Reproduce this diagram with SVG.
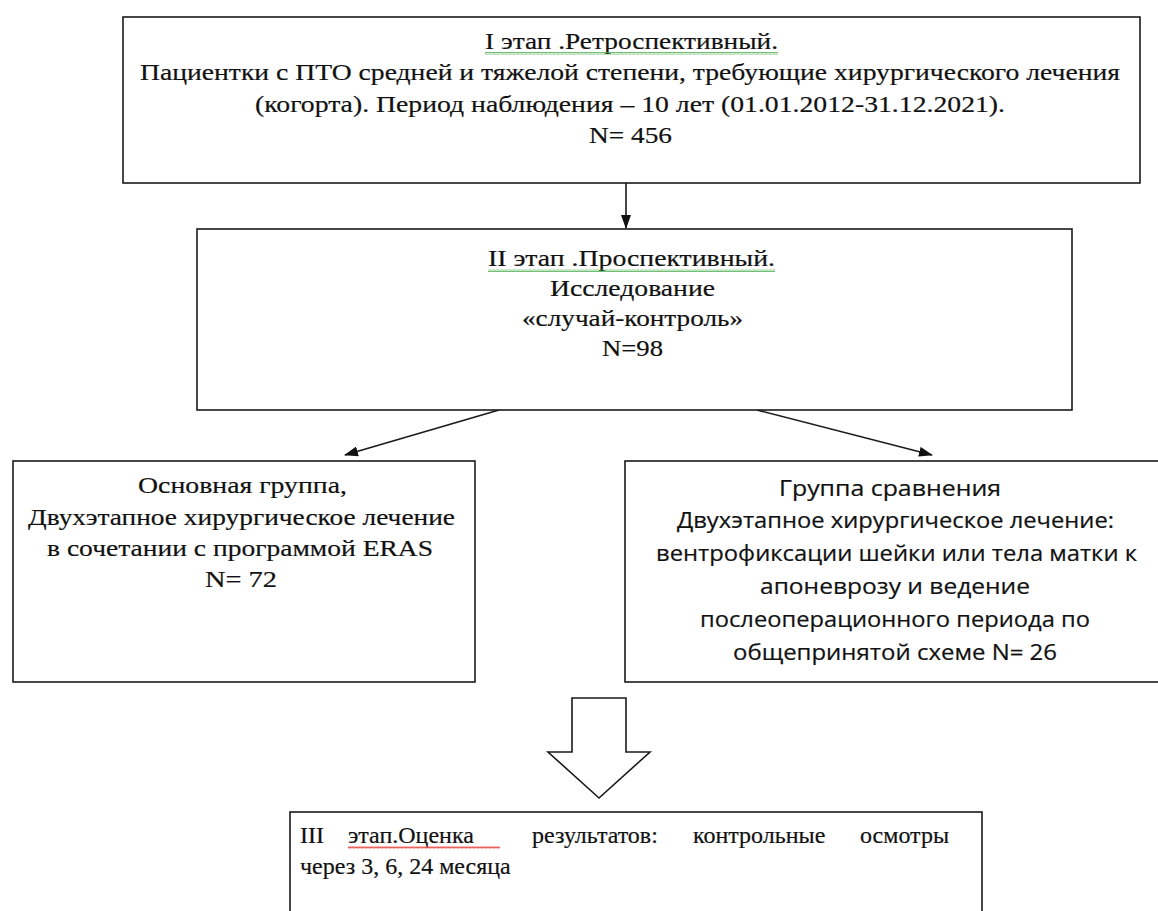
<svg xmlns="http://www.w3.org/2000/svg" width="1158" height="911" viewBox="0 0 1158 911">
<style>
.box{fill:#fff;stroke:#1a1a1a;stroke-width:1.6}
.serif{font-family:"Liberation Serif","DejaVu Serif","Times New Roman",serif;font-size:24px;fill:#111;stroke:#111;stroke-width:0.2}
.sans{font-family:"Open Sans","Noto Sans","Liberation Sans",sans-serif;font-size:21px;fill:#111;stroke:#111;stroke-width:0.2}
.c{text-anchor:middle}
.conn{stroke:#1a1a1a;stroke-width:1.6;fill:none}
</style>
<defs>
<marker id="ah" viewBox="0 0 14 10" refX="13" refY="5" markerWidth="14" markerHeight="10" markerUnits="userSpaceOnUse" orient="auto">
<path d="M0,0 L14,5 L0,10 Z" fill="#111"/>
</marker>
<pattern id="wg" x="0" y="0" width="4" height="3" patternUnits="userSpaceOnUse">
<path d="M0,2.5 L1,0.5 L2,2.5 L3,0.5 L4,2.5" fill="none" stroke="#4caf50" stroke-width="0.8"/>
</pattern>
<pattern id="wr" x="0" y="0" width="4" height="3" patternUnits="userSpaceOnUse">
<path d="M0,2.5 L1,0.5 L2,2.5 L3,0.5 L4,2.5" fill="none" stroke="#e53935" stroke-width="0.8"/>
</pattern>
</defs>
<rect width="1158" height="911" fill="#fff"/>

<g id="connectors">
<line class="conn" x1="626" y1="183" x2="626" y2="228" marker-end="url(#ah)"/>
<line class="conn" x1="499" y1="410" x2="345" y2="455" marker-end="url(#ah)"/>
<line class="conn" x1="757" y1="410" x2="932" y2="455" marker-end="url(#ah)"/>
<polygon class="conn" points="572,698 626,698 626,752 650,752 599,798 548,752 572,752" fill="#fff"/>
</g>

<g id="stage1">
<rect class="box" x="123" y="17" width="1017" height="166"/>
<text class="serif c" x="631.5" y="49" textLength="293" lengthAdjust="spacingAndGlyphs">I этап .Ретроспективный.</text>
<rect x="485" y="52" width="293" height="3" fill="url(#wg)"/>
<text class="serif c" x="630" y="80" textLength="980" lengthAdjust="spacingAndGlyphs">Пациентки с ПТО средней  и тяжелой степени, требующие хирургического лечения</text>
<text class="serif c" x="630" y="112" textLength="750" lengthAdjust="spacingAndGlyphs">(когорта). Период наблюдения – 10 лет (01.01.2012-31.12.2021).</text>
<text class="serif c" x="630.5" y="143" textLength="83" lengthAdjust="spacingAndGlyphs">N= 456</text>
</g>

<g id="stage2">
<rect class="box" x="197" y="229" width="875" height="181"/>
<text class="serif c" x="631.5" y="266" textLength="287" lengthAdjust="spacingAndGlyphs">II этап .Проспективный.</text>
<rect x="488" y="269" width="287" height="3" fill="url(#wg)"/>
<text class="serif c" x="632.5" y="296" textLength="165" lengthAdjust="spacingAndGlyphs">Исследование</text>
<text class="serif c" x="632.5" y="326" textLength="221" lengthAdjust="spacingAndGlyphs">«случай-контроль»</text>
<text class="serif c" x="632.5" y="356" textLength="61" lengthAdjust="spacingAndGlyphs">N=98</text>
</g>

<g id="main-group">
<rect class="box" x="13" y="461" width="462" height="221"/>
<text class="serif c" x="242.5" y="493" textLength="209" lengthAdjust="spacingAndGlyphs">Основная группа,</text>
<text class="serif c" x="241.5" y="525" textLength="427" lengthAdjust="spacingAndGlyphs">Двухэтапное хирургическое лечение</text>
<text class="serif c" x="240" y="556" textLength="386" lengthAdjust="spacingAndGlyphs">в сочетании с программой ERAS</text>
<text class="serif c" x="241" y="587" textLength="72" lengthAdjust="spacingAndGlyphs">N= 72</text>
</g>

<g id="comparison-group">
<rect class="box" x="625" y="461" width="545" height="221"/>
<text class="sans c" x="890" y="496" textLength="222" lengthAdjust="spacingAndGlyphs">Группа сравнения</text>
<text class="sans c" x="895.5" y="528" textLength="437" lengthAdjust="spacingAndGlyphs">Двухэтапное хирургическое лечение:</text>
<text class="sans c" x="896.5" y="561" textLength="481" lengthAdjust="spacingAndGlyphs">вентрофиксации шейки или тела матки к</text>
<text class="sans c" x="895" y="594" textLength="270" lengthAdjust="spacingAndGlyphs">апоневрозу и ведение</text>
<text class="sans c" x="895" y="627" textLength="390" lengthAdjust="spacingAndGlyphs">послеоперационного периода по</text>
<text class="sans c" x="895" y="660" textLength="324" lengthAdjust="spacingAndGlyphs">общепринятой схеме N= 26</text>
</g>

<g id="stage3">
<rect class="box" x="290" y="812" width="692" height="110"/>
<text class="serif" y="843"><tspan x="300">III</tspan><tspan x="348">этап.Оценка</tspan><tspan x="532">результатов:</tspan><tspan x="693">контрольные</tspan><tspan x="860">осмотры</tspan></text>
<rect x="348" y="846" width="152" height="3" fill="url(#wr)"/>
<text class="serif" x="300" y="874">через 3, 6, 24 месяца</text>
</g>
</svg>
